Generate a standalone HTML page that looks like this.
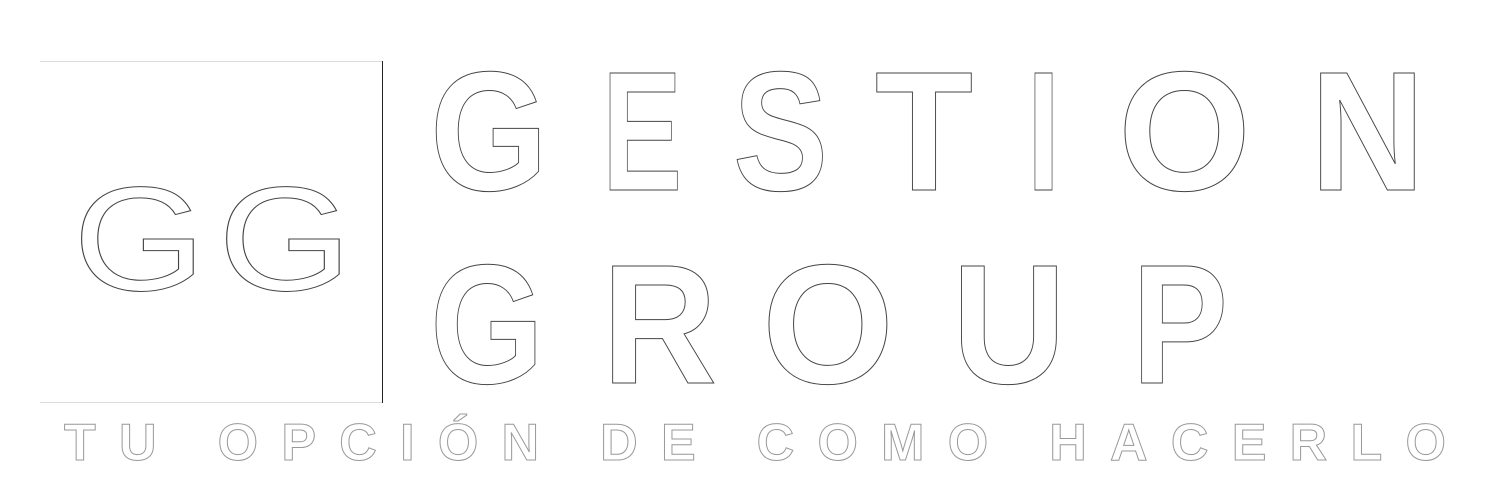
<!DOCTYPE html>
<html><head><meta charset="utf-8"><style>
html,body{margin:0;padding:0;background:#fff;width:1500px;height:504px;overflow:hidden}
svg{display:block}
text{font-family:"Liberation Sans",sans-serif;font-weight:bold;fill:#fff;stroke:#444;stroke-width:1}
text.thin{font-weight:normal}
</style></head><body>
<svg width="1500" height="504">
  <g>
    <line x1="40" y1="61.5" x2="382" y2="61.5" stroke="#ddd" stroke-width="1"/>
    <line x1="40" y1="402.5" x2="382" y2="402.5" stroke="#ddd" stroke-width="1"/>
    <line x1="382.5" y1="61" x2="382.5" y2="403" stroke="#222" stroke-width="1"/>
  </g>
  <g font-size="148">
    <text class="thin" x="73" y="290" textLength="133" lengthAdjust="spacingAndGlyphs">G</text>
    <text class="thin" x="218" y="290" textLength="134" lengthAdjust="spacingAndGlyphs">G</text>
  </g>
  <g font-size="170">
    <text x="430" y="190" textLength="118" lengthAdjust="spacingAndGlyphs">G</text>
    <text x="602" y="190" textLength="80" lengthAdjust="spacingAndGlyphs">E</text>
    <text x="733" y="190" textLength="95" lengthAdjust="spacingAndGlyphs">S</text>
    <text x="875" y="190" textLength="98" lengthAdjust="spacingAndGlyphs">T</text>
    <text x="1027" y="190" textLength="33" lengthAdjust="spacingAndGlyphs">I</text>
    <text x="1118" y="190" textLength="133" lengthAdjust="spacingAndGlyphs">O</text>
    <text x="1310" y="190" textLength="115" lengthAdjust="spacingAndGlyphs">N</text>
  </g>
  <g font-size="170">
    <text x="430" y="383" textLength="114" lengthAdjust="spacingAndGlyphs">G</text>
    <text x="602" y="383" textLength="115" lengthAdjust="spacingAndGlyphs">R</text>
    <text x="762" y="383" textLength="132" lengthAdjust="spacingAndGlyphs">O</text>
    <text x="952" y="383" textLength="114" lengthAdjust="spacingAndGlyphs">U</text>
    <text x="1132" y="383" textLength="96" lengthAdjust="spacingAndGlyphs">P</text>
  </g>
  <text x="64" y="460" font-size="52" textLength="1382" lengthAdjust="spacing" style="stroke:#999">TU OPCIÓN DE COMO HACERLO</text>
</svg>
</body></html>
